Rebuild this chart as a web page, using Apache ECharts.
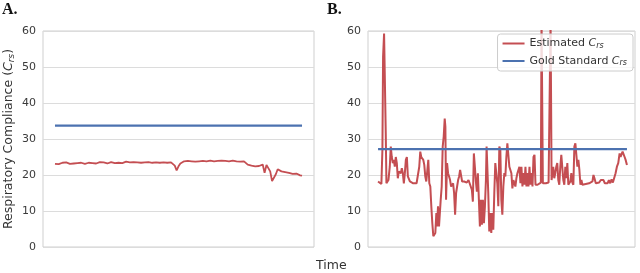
<!DOCTYPE html>
<html><head><meta charset="utf-8">
<script src="https://cdn.jsdelivr.net/npm/echarts@6/dist/echarts.min.js"></script>
<style>html,body{margin:0;padding:0;background:#fff}#c{width:640px;height:273px}</style>
</head><body><div id="c"></div>
<script>
// Panel A: estimated compliance (sample index implied), gold standard
const estA = [23.1,23.2,23.0,23.3,23.4,23.2,23.5,23.3,23.1,23.4,23.2,23.5,23.3,23.2,23.4,23.3,23.1,23.5,23.4,23.6,23.3,23.5,23.2,23.4,23.6,23.3,23.5,23.4,23.2,23.5,23.6,23.4,23.3,23.5,23.4,23.6,23.3,23.5,23.7,23.4,23.5,23.3,23.6,23.4,23.5,23.7,23.4,23.6,23.5,23.3,23.6,23.5,23.4,23.7,23.5,23.6,23.4,23.7,23.5,23.6,23.4,23.7,23.5,23.3,
  22.6,21.3,22.4,23.2,23.6,23.8,
  23.7,23.9,23.6,23.8,24.0,23.7,23.9,23.8,23.6,23.9,24.0,23.8,23.7,24.0,23.9,23.8,24.1,23.9,23.7,24.0,23.8,23.9,24.1,23.8,23.7,24.0,23.9,23.8,24.0,23.7,23.9,23.8,
  23.4,22.9,22.8,22.6,22.7,22.4,22.3,22.5,22.2,22.9,20.6,22.8,22.9,21.0,18.3,18.1,20.2,21.6,21.3,21.0,21.2,20.8,20.9,20.6,20.7,20.3,20.5,20.4,20.1,19.9,19.8];
const goldA = 33.7;

// Panel B: time stamps and estimated compliance, gold standard
const timeB = [0,5,10,13,15,18,21,23,25,28,31,35,38,41,44,47,50,53,56,59,62,65,68,71,74,77,80,83,86,89,92,95,100,105,110,115,120,123,126,129,132,135,138,141,144,147,150,153,156,159,162,165,168,171,174,176,179,182,184,187,190,193,196,199,201,203,206,209,212,215,218,221,224,227,230,233,236,239,242,245,248,251,254,257,260,265,270,275,280,283,286,289,292,295,298,301,304,307,310,313,316,319,322,324,327,329,332,335,338,341,344,347,350,353,356,359,362,365,368,371,374,377,380,383,386,389,392,395,398,401,404,407,410,413,416,419,422,425,428,431,434,437,440,443,446,449,452,455,458,461,464,467,470,473,476,479,486,488,490,492,497,501,505,509,513,515,518,523,526,529,532,535,538,541,544,547,550,553,556,559,562,565,568,571,574,577,580,583,586,589,592,595,598,601,604,607,610,615,620,625,630,635,640,643,646,650,655,660,665,670,673,677,681,685,689,693,697,701,705,709,713,717,721,724,727,730,733,736,739,743];
const estB = [18.2,17.9,17.5,27,52.8,59.3,58.8,31.6,17.7,18.2,18.6,22.3,27.9,25,23.3,24.2,22.3,25,23.3,19.1,21,21.4,20.5,21.9,20.5,17.7,20.5,24.2,25,19.6,19.1,18.2,17.7,17.7,17.9,17.7,17.9,22.3,26.5,25,25,24.2,22.8,19.6,18.2,18.6,24.2,17.7,16.8,11.3,6.6,3,2.8,3.9,9.4,5.7,11.3,5.7,5.7,13.1,16.8,27.9,30.7,35.7,33.4,13.1,23.3,20.5,19.6,18.6,16.8,16.3,17.7,15,9,15,16.8,18.6,19.6,21.4,21.2,18.2,18.6,18.2,18.6,17.9,18.6,18.2,15.9,12.6,26,22.3,18.2,15.4,20.5,13.1,5.7,13.1,6.2,13.1,6.6,11.3,18.6,27.9,27.4,15,4.3,9.4,3.9,9.4,4.8,15,23.3,20.5,17.7,11.3,27.9,27,13.1,9,16.8,20.5,19.6,25,28.8,28.3,22.3,21.4,20.5,16.3,18.6,18.2,16.8,19.1,20.5,21.4,22.3,17.7,22.3,16.8,20.5,17.3,22.3,16.8,20.5,16.8,22.3,17.3,20.5,16.8,25,25.6,17.3,17.7,17.3,17.7,17.9,64,64,17.7,18.2,17.7,17.7,17.9,17.8,63,18.6,22.3,19.1,20.5,22.3,23.3,18.6,17.3,22.3,25.6,25.6,18.6,17.3,22.3,19.1,23.3,17.3,17.3,18.2,20.5,17.9,17.3,27.9,28.8,28.8,22.3,24.2,21.4,17.3,18.6,17.3,17.7,17.5,17.5,17.7,17.5,18.2,20,19.1,17.7,17.5,17.9,18.6,19.1,18.6,17.7,18.2,17.7,18.6,17.7,18.8,17.9,17.7,20.5,22.3,23.3,26,25,25.8,26.5,26,25,24.2,22.8];
const goldB = 27.2;

const yTicks = [0, 10, 20, 30, 40, 50, 60];

const RED = '#c44e52', BLUE = '#4c72b0';
const FONT = 'DejaVu Sans';
const chart = echarts.init(document.getElementById('c'), null, {renderer: 'canvas'});

const seriesA = estA.map((v, i) => [i, v]);
const seriesB = timeB.map((t, i) => [t, estB[i]]);

function yAx(idx, withName) {
  const ax = {
    gridIndex: idx, type: 'value', min: yTicks[0], max: yTicks[yTicks.length - 1], interval: 10,
    axisLine: {show: false}, axisTick: {show: false},
    axisLabel: {color: '#3a3a3a', fontSize: 11, fontFamily: FONT, margin: 7},
    splitLine: {lineStyle: {color: '#dcdcdc', width: 1}}
  };
  if (withName) {
    ax.name = '{n|Respiratory Compliance (}{i|C}{s|rs}{n|)}';
    ax.nameLocation = 'middle';
    ax.nameGap = 27;
    ax.nameTextStyle = {
      rich: {
        n: {fontSize: 12.5, fontFamily: FONT, color: '#333'},
        i: {fontSize: 12.5, fontFamily: FONT, fontStyle: 'italic', color: '#333'},
        s: {fontSize: 9, fontFamily: FONT, fontStyle: 'italic', color: '#333', padding: [5, 0, 0, 0]}
      }
    };
  }
  return ax;
}

chart.setOption({
  animation: false,
  textStyle: {fontFamily: FONT},
  grid: [
    {left: 43, right: 326, top: 31, bottom: 26, show: true, borderColor: '#cfcfcf', borderWidth: 1},
    {left: 368, right: 5, top: 31, bottom: 26, show: true, borderColor: '#cfcfcf', borderWidth: 1}
  ],
  xAxis: [
    {gridIndex: 0, type: 'value', min: -6.4, max: 138.4, axisLabel: {show: false}, axisTick: {show: false}, axisLine: {show: false}, splitLine: {show: false}},
    {gridIndex: 1, type: 'value', min: -30, max: 767, axisLabel: {show: false}, axisTick: {show: false}, axisLine: {show: false}, splitLine: {show: false}}
  ],
  yAxis: [yAx(0, true), yAx(1, false)],
  legend: {
    data: ['Estimated', 'Gold Standard'],
    orient: 'vertical', right: 7, top: 34,
    itemWidth: 22, itemHeight: 2, itemGap: 6,
    icon: 'rect',
    backgroundColor: 'rgba(255,255,255,0.8)', borderColor: '#cccccc', borderWidth: 1, borderRadius: 3,
    padding: [4, 6, 4, 5],
    formatter: name => `{n|${name} }{i|C}{s|rs}`,
    textStyle: {
      color: '#333',
      rich: {
        n: {fontSize: 11, fontFamily: FONT, color: '#333'},
        i: {fontSize: 11, fontFamily: FONT, fontStyle: 'italic', color: '#333'},
        s: {fontSize: 8, fontFamily: FONT, fontStyle: 'italic', color: '#333', padding: [4, 0, 0, 0]}
      }
    }
  },
  series: [
    {name: 'Estimated', type: 'line', xAxisIndex: 0, yAxisIndex: 0, data: seriesA, showSymbol: false, symbol: 'none', lineStyle: {color: RED, width: 1.8}, itemStyle: {color: RED}, z: 3},
    {name: 'Gold Standard', type: 'line', xAxisIndex: 0, yAxisIndex: 0, data: [[0, goldA], [estA.length - 1, goldA]], showSymbol: false, symbol: 'none', lineStyle: {color: BLUE, width: 2.2}, itemStyle: {color: BLUE}},
    {name: 'Estimated', type: 'line', xAxisIndex: 1, yAxisIndex: 1, data: seriesB, showSymbol: false, symbol: 'none', clip: true, lineStyle: {color: RED, width: 2}, itemStyle: {color: RED}},
    {name: 'Gold Standard', type: 'line', xAxisIndex: 1, yAxisIndex: 1, data: [[timeB[0], goldB], [timeB[timeB.length - 1], goldB]], showSymbol: false, symbol: 'none', lineStyle: {color: BLUE, width: 2.2}, itemStyle: {color: BLUE}, z: 3}
  ],
  graphic: [
    {type: 'text', left: 2, top: 2, style: {text: 'A.', fontFamily: 'Liberation Serif', fontWeight: 'bold', fontSize: 16, fill: '#111'}},
    {type: 'text', left: 327, top: 2, style: {text: 'B.', fontFamily: 'Liberation Serif', fontWeight: 'bold', fontSize: 16, fill: '#111'}},
    {type: 'text', left: 316, top: 259, style: {text: 'Time', fontFamily: FONT, fontSize: 12.5, fill: '#333'}}
  ]
});
</script>
</body></html>
